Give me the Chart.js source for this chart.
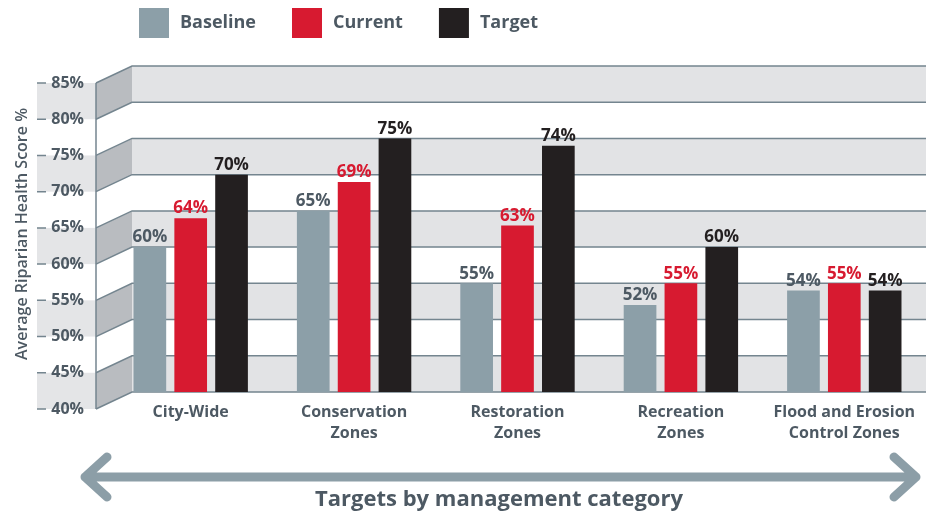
<!DOCTYPE html>
<html>
<head>
<meta charset="utf-8">
<script src="https://cdn.jsdelivr.net/npm/chart.js@4/dist/chart.umd.min.js"></script>
<style>
  body { margin: 0; background: #fff; }
</style>
</head>
<body>
<canvas id="chart" width="926" height="516"></canvas>
<script>
// data
const categories = [
  ["City-Wide"],
  ["Conservation", "Zones"],
  ["Restoration", "Zones"],
  ["Recreation", "Zones"],
  ["Flood and Erosion", "Control Zones"]
];
const baseline = [60, 65, 55, 52, 54];
const current = [64, 69, 63, 55, 55];
const target = [70, 75, 74, 60, 54];

const yMin = 40, yMax = 85, yStep = 5;
const yTitle = "Average Riparian Health Score %";
const xTitle = "Targets by management category";

const FONT = "'Open Sans', 'Noto Sans', sans-serif";
const SLATE = "#4d5963";
const LINE = "#74858f";

// 3d look: back wall sits up and right of the front edge
const depthX = 36;
const depthY = 17;
const wallBackX = 132;

const wallPlugin = {
  id: "wall",
  beforeDraw(chart) {
    const ctx = chart.ctx;
    const y = chart.scales.y;
    const area = chart.chartArea;
    const backX = wallBackX;
    const frontX = backX - depthX;

    ctx.save();
    for (let v = yMin; v < yMax; v += yStep) {
      const grey = v % 10 === 0;
      const by0 = y.getPixelForValue(v);
      const by1 = y.getPixelForValue(v + yStep);
      // band behind the tick labels
      if (grey) {
        ctx.fillStyle = "#e4e5e7";
        ctx.fillRect(37, by1 + depthY, frontX - 37, by0 - by1);
      }
      // side wall
      ctx.fillStyle = grey ? "#b9bcc0" : "#ffffff";
      ctx.beginPath();
      ctx.moveTo(frontX, by0 + depthY);
      ctx.lineTo(backX, by0);
      ctx.lineTo(backX, by1);
      ctx.lineTo(frontX, by1 + depthY);
      ctx.closePath();
      ctx.fill();
      // back wall
      if (grey) {
        ctx.fillStyle = "#e2e3e5";
        ctx.fillRect(backX, by1, area.right - backX, by0 - by1);
      }
    }

    ctx.strokeStyle = LINE;
    ctx.lineWidth = 1.5;
    for (let v = yMin; v <= yMax; v += yStep) {
      const by = y.getPixelForValue(v);
      ctx.beginPath();
      ctx.moveTo(37, by + depthY);
      ctx.lineTo(46, by + depthY);
      ctx.moveTo(frontX, by + depthY);
      ctx.lineTo(backX, by);
      ctx.lineTo(area.right, by);
      ctx.stroke();
    }
    ctx.beginPath();
    ctx.moveTo(frontX, y.getPixelForValue(yMax) + depthY);
    ctx.lineTo(frontX, y.getPixelForValue(yMin) + depthY);
    ctx.stroke();

    // rotated axis title
    ctx.fillStyle = SLATE;
    ctx.font = "600 16px " + FONT;
    ctx.textAlign = "center";
    ctx.textBaseline = "middle";
    ctx.translate(22, 234);
    ctx.rotate(-Math.PI / 2);
    ctx.fillText(yTitle, 0, 0);
    ctx.restore();
  },
  afterDatasetsDraw(chart) {
    const ctx = chart.ctx;
    ctx.save();
    ctx.font = "bold 17px " + FONT;
    ctx.textAlign = "center";
    ctx.textBaseline = "bottom";
    chart.data.datasets.forEach((ds, i) => {
      const meta = chart.getDatasetMeta(i);
      meta.data.forEach((bar, j) => {
        ctx.fillStyle = ds.labelColor;
        ctx.fillText(ds.data[j] + "%", bar.x, bar.y - 1);
      });
    });
    ctx.restore();
  },
  afterDraw(chart) {
    const ctx = chart.ctx;
    ctx.save();

    // legend
    ctx.font = "bold 18px " + FONT;
    ctx.textBaseline = "middle";
    ctx.textAlign = "left";
    let lx = 139;
    chart.data.datasets.forEach(ds => {
      ctx.fillStyle = ds.backgroundColor;
      ctx.fillRect(lx, 8, 30, 30);
      ctx.fillStyle = SLATE;
      ctx.fillText(ds.label, lx + 41, 23);
      lx += 41 + ctx.measureText(ds.label).width + 36;
    });

    // double arrow
    ctx.strokeStyle = "#8c9ea7";
    ctx.lineWidth = 9;
    ctx.lineCap = "round";
    ctx.lineJoin = "round";
    const ay = 477, ax0 = 85, ax1 = 916;
    ctx.beginPath();
    ctx.moveTo(ax0, ay);
    ctx.lineTo(ax1, ay);
    ctx.moveTo(ax0 + 22, ay - 20);
    ctx.lineTo(ax0, ay);
    ctx.lineTo(ax0 + 22, ay + 20);
    ctx.moveTo(ax1 - 22, ay - 20);
    ctx.lineTo(ax1, ay);
    ctx.lineTo(ax1 - 22, ay + 20);
    ctx.stroke();

    // axis caption
    ctx.fillStyle = SLATE;
    ctx.font = "bold 22px " + FONT;
    ctx.textAlign = "center";
    ctx.textBaseline = "middle";
    ctx.fillText(xTitle, 499, 500);
    ctx.restore();
  }
};

new Chart(document.getElementById("chart"), {
  type: "bar",
  data: {
    labels: categories,
    datasets: [
      { label: "Baseline", data: baseline, backgroundColor: "#8c9fa8", labelColor: SLATE },
      { label: "Current", data: current, backgroundColor: "#d71a30", labelColor: "#d71a30" },
      { label: "Target", data: target, backgroundColor: "#231f20", labelColor: "#231f20" }
    ]
  },
  options: {
    responsive: false,
    animation: false,
    events: [],
    layout: { padding: { top: 66, left: 9, right: 0, bottom: 0 } },
    datasets: {
      bar: { barPercentage: 0.8, categoryPercentage: 0.75, base: yMin }
    },
    plugins: {
      legend: { display: false },
      tooltip: { enabled: false }
    },
    scales: {
      x: {
        offset: true,
        grid: { display: false },
        border: { display: false },
        ticks: {
          padding: 2,
          color: SLATE,
          font: { family: FONT, size: 16, weight: "bold", lineHeight: 1.3 },
          maxRotation: 0,
          autoSkip: false
        },
        afterFit(scale) { scale.height = 124; }
      },
      y: {
        min: yMin,
        max: yMax,
        grid: { display: false },
        border: { display: false },
        ticks: {
          stepSize: yStep,
          labelOffset: depthY,
          padding: 17,
          color: SLATE,
          font: { family: FONT, size: 16, weight: "bold" },
          callback: v => v + "%"
        },
        afterFit(scale) { scale.width = 100; }
      }
    }
  },
  plugins: [wallPlugin]
});
</script>
</body>
</html>
